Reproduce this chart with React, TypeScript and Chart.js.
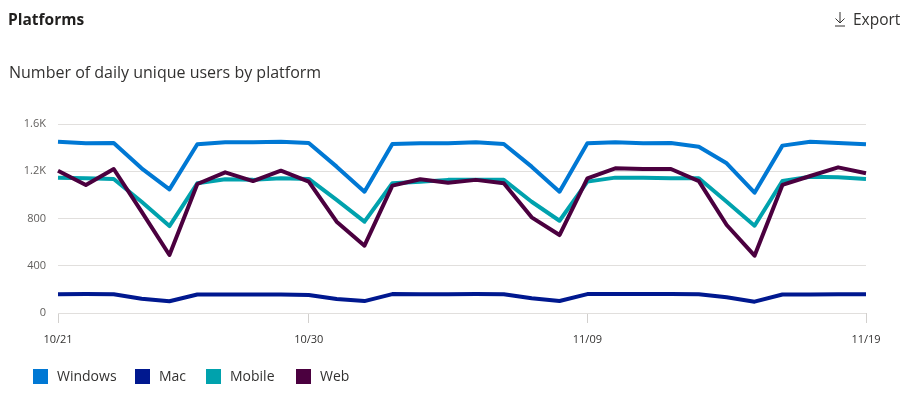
import React, { useEffect, useRef } from "react";
import { Chart, registerables } from "chart.js";

Chart.register(...registerables);

const dates = [
  "10/21", "10/22", "10/23", "10/24", "10/25", "10/26", "10/27", "10/28", "10/29", "10/30",
  "10/31", "11/01", "11/02", "11/03", "11/04", "11/05", "11/06", "11/07", "11/08", "11/09",
  "11/10", "11/11", "11/12", "11/13", "11/14", "11/15", "11/16", "11/17", "11/18", "11/19",
];
const shownTicks = ["10/21", "10/30", "11/09", "11/19"];

const windowsUsers = [
  1450, 1437, 1440, 1225, 1047, 1428, 1445, 1445, 1450, 1440,
  1239, 1027, 1431, 1437, 1437, 1445, 1431, 1239, 1027, 1437,
  1445, 1437, 1440, 1408, 1267, 1018, 1417, 1450, 1440, 1428,
];
const macUsers = [
  158, 160, 158, 121, 99, 157, 157, 157, 157, 153,
  118, 101, 160, 158, 158, 160, 158, 124, 102, 160,
  160, 160, 160, 158, 133, 96, 157, 157, 158, 158,
];
const mobileUsers = [
  1146, 1140, 1135, 942, 736, 1098, 1133, 1127, 1140, 1135,
  957, 773, 1098, 1112, 1127, 1127, 1127, 942, 781, 1112,
  1146, 1146, 1140, 1140, 942, 739, 1117, 1154, 1149, 1135,
];
const webUsers = [
  1205, 1084, 1219, 858, 491, 1092, 1191, 1117, 1205, 1112,
  773, 570, 1078, 1132, 1103, 1127, 1098, 810, 660, 1140,
  1225, 1219, 1219, 1117, 745, 485, 1084, 1160, 1233, 1183,
];

const seriesNames = ["Windows", "Mac", "Mobile", "Web"];
const seriesColors = ["#0078D4", "#00188F", "#00A2AD", "#4B003F"];
const yTickValues = [0, 400, 800, 1200, 1600];
const yTickLabels = ["0", "400", "800", "1.2K", "1.6K"];

const FONT = "'Segoe UI', 'Open Sans', sans-serif";
const legendLefts = [33, 135, 206, 296];

export default function App() {
  const canvasRef = useRef<HTMLCanvasElement>(null);

  useEffect(() => {
    if (!canvasRef.current) return;
    const values = [windowsUsers, macUsers, mobileUsers, webUsers];
    const orders = [1, 2, 4, 3];
    const chart = new Chart(canvasRef.current, {
      type: "line",
      data: {
        labels: dates,
        datasets: seriesNames.map((name, i) => ({
          label: name,
          data: values[i],
          borderColor: seriesColors[i],
          backgroundColor: seriesColors[i],
          borderWidth: 4,
          pointRadius: 0,
          tension: 0,
          order: orders[i],
          borderJoinStyle: "round" as const,
        })),
      },
      options: {
        animation: false,
        responsive: false,
        maintainAspectRatio: false,
        layout: { padding: { top: 124, right: 47, left: 0, bottom: 44 } },
        plugins: { legend: { display: false }, tooltip: { enabled: false } },
        scales: {
          x: {
            offset: false,
            border: { display: false },
            afterFit: (s: any) => {
              s.height = 40;
            },
            grid: {
              drawOnChartArea: false,
              drawTicks: true,
              tickLength: 10,
              color: (ctx: any) =>
                shownTicks.includes(dates[ctx.index]) ? "#d2d0ce" : "rgba(0,0,0,0)",
            },
            ticks: {
              autoSkip: false,
              maxRotation: 0,
              padding: 10,
              color: "#323130",
              font: { size: 11, family: FONT },
              callback: (_v: any, i: number) => (shownTicks.includes(dates[i]) ? dates[i] : ""),
            },
          },
          y: {
            min: 0,
            max: 1600,
            border: { display: false },
            afterFit: (s: any) => {
              s.width = 58;
            },
            afterBuildTicks: (s: any) => {
              s.ticks = yTickValues.map((v) => ({ value: v }));
            },
            grid: { drawTicks: false, color: "#e1dfdd", lineWidth: 1 },
            ticks: {
              padding: 12,
              color: "#605E5C",
              font: { size: 11, family: FONT },
              callback: (v: any) => yTickLabels[yTickValues.indexOf(Number(v))] ?? "",
            },
          },
        },
      },
    });
    return () => chart.destroy();
  }, []);

  return (
    <div
      style={{
        position: "fixed",
        left: 0,
        top: 0,
        width: 913,
        height: 397,
        background: "#ffffff",
        fontFamily: FONT,
        color: "#323130",
        overflow: "hidden",
      }}
    >
      <canvas
        ref={canvasRef}
        width={913}
        height={397}
        style={{ position: "absolute", left: 0, top: 0, width: 913, height: 397 }}
      />
      <div
        style={{
          position: "absolute",
          left: 8,
          top: 9,
          fontSize: 15.5,
          fontWeight: 700,
          color: "#201f1e",
          lineHeight: "20px",
        }}
      >
        Platforms
      </div>
      <div
        style={{
          position: "absolute",
          left: 834,
          top: 9,
          fontSize: 15.5,
          color: "#323130",
          lineHeight: "20px",
          display: "flex",
          alignItems: "center",
        }}
      >
        <svg width="12" height="16" viewBox="0 0 12 16" style={{ marginRight: 7 }}>
          <path d="M6 1 V12 M1.5 7.5 L6 12 L10.5 7.5 M1 15 H11" stroke="#323130" strokeWidth="1" fill="none" />
        </svg>
        Export
      </div>
      <div
        style={{
          position: "absolute",
          left: 9,
          top: 61,
          fontSize: 16,
          color: "#323130",
          lineHeight: "22px",
        }}
      >
        Number of daily unique users by platform
      </div>
      {seriesNames.map((name, i) => (
        <div
          key={name}
          style={{
            position: "absolute",
            left: legendLefts[i],
            top: 366,
            display: "flex",
            alignItems: "center",
            fontSize: 14,
            color: "#323130",
          }}
        >
          <span
            style={{
              display: "inline-block",
              width: 15,
              height: 15,
              background: seriesColors[i],
              marginRight: 9,
            }}
          />
          <span style={{ lineHeight: "20px" }}>{name}</span>
        </div>
      ))}
    </div>
  );
}
